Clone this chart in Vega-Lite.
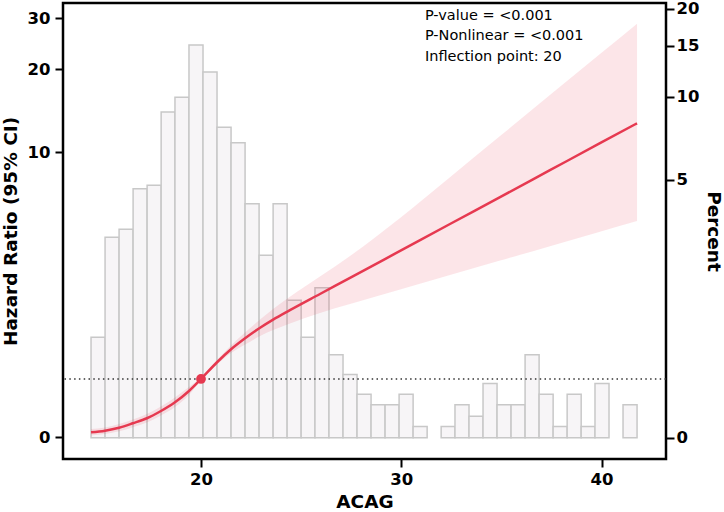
{
  "$schema": "https://vega.github.io/schema/vega-lite/v6.json",
  "width": 603,
  "height": 456,
  "autosize": {"type": "none"},
  "padding": {"left": 63, "top": 3, "right": 58, "bottom": 53},
  "background": "white",
  "config": {
    "view": {"stroke": "black", "strokeWidth": 2.5},
    "font": "DejaVu Sans",
    "axis": {
      "domain": false, "grid": false, "ticks": true,
      "tickColor": "black", "tickWidth": 2, "tickSize": 8,
      "labelFont": "DejaVu Sans", "labelFontSize": 16.5, "labelFontWeight": "bold", "labelColor": "black",
      "titleFont": "DejaVu Sans", "titleFontSize": 18.5, "titleFontWeight": "bold", "titleColor": "black"
    }
  },
  "datasets": {
    "bars": [
      {"x0": 14.51, "x1": 15.21, "pct": 0.96},
      {"x0": 15.21, "x1": 15.91, "pct": 2.97},
      {"x0": 15.91, "x1": 16.61, "pct": 3.2},
      {"x0": 16.61, "x1": 17.31, "pct": 4.63},
      {"x0": 17.31, "x1": 18.01, "pct": 4.77},
      {"x0": 18.01, "x1": 18.7, "pct": 8.83},
      {"x0": 18.7, "x1": 19.4, "pct": 9.95},
      {"x0": 19.4, "x1": 20.1, "pct": 15.06},
      {"x0": 20.1, "x1": 20.8, "pct": 12.17},
      {"x0": 20.8, "x1": 21.5, "pct": 7.79},
      {"x0": 21.5, "x1": 22.2, "pct": 6.86},
      {"x0": 22.2, "x1": 22.9, "pct": 4.05},
      {"x0": 22.9, "x1": 23.6, "pct": 2.49},
      {"x0": 23.6, "x1": 24.3, "pct": 4.05},
      {"x0": 24.3, "x1": 25.0, "pct": 1.54},
      {"x0": 25.0, "x1": 25.69, "pct": 0.96},
      {"x0": 25.69, "x1": 26.39, "pct": 1.77},
      {"x0": 26.39, "x1": 27.09, "pct": 0.74},
      {"x0": 27.09, "x1": 27.79, "pct": 0.52},
      {"x0": 27.79, "x1": 28.49, "pct": 0.33},
      {"x0": 28.49, "x1": 29.19, "pct": 0.24},
      {"x0": 29.19, "x1": 29.89, "pct": 0.24},
      {"x0": 29.89, "x1": 30.59, "pct": 0.33},
      {"x0": 30.59, "x1": 31.29, "pct": 0.075},
      {"x0": 31.99, "x1": 32.68, "pct": 0.075},
      {"x0": 32.68, "x1": 33.38, "pct": 0.24},
      {"x0": 33.38, "x1": 34.08, "pct": 0.15},
      {"x0": 34.08, "x1": 34.78, "pct": 0.43},
      {"x0": 34.78, "x1": 35.48, "pct": 0.24},
      {"x0": 35.48, "x1": 36.18, "pct": 0.24},
      {"x0": 36.18, "x1": 36.88, "pct": 0.74},
      {"x0": 36.88, "x1": 37.58, "pct": 0.33},
      {"x0": 37.58, "x1": 38.28, "pct": 0.075},
      {"x0": 38.28, "x1": 38.98, "pct": 0.33},
      {"x0": 38.98, "x1": 39.67, "pct": 0.075},
      {"x0": 39.67, "x1": 40.37, "pct": 0.43},
      {"x0": 41.07, "x1": 41.77, "pct": 0.24}
    ],
    "curve": [
      {"x": 14.51, "hr": 0.050, "lo": 0.018, "hi": 0.085},
      {"x": 15.21, "hr": 0.067, "lo": 0.033, "hi": 0.100},
      {"x": 15.91, "hr": 0.098, "lo": 0.061, "hi": 0.138},
      {"x": 16.6, "hr": 0.146, "lo": 0.104, "hi": 0.188},
      {"x": 17.3, "hr": 0.202, "lo": 0.155, "hi": 0.252},
      {"x": 18.0, "hr": 0.287, "lo": 0.234, "hi": 0.343},
      {"x": 18.7, "hr": 0.396, "lo": 0.336, "hi": 0.459},
      {"x": 19.4, "hr": 0.548, "lo": 0.492, "hi": 0.605},
      {"x": 20.0, "hr": 0.724, "lo": 0.709, "hi": 0.739},
      {"x": 20.8, "hr": 0.998, "lo": 0.960, "hi": 1.038},
      {"x": 21.5, "hr": 1.236, "lo": 1.166, "hi": 1.310},
      {"x": 22.2, "hr": 1.457, "lo": 1.330, "hi": 1.581},
      {"x": 22.95, "hr": 1.686, "lo": 1.506, "hi": 1.880},
      {"x": 23.6, "hr": 1.877, "lo": 1.636, "hi": 2.144},
      {"x": 24.44, "hr": 2.113, "lo": 1.785, "hi": 2.481},
      {"x": 25.94, "hr": 2.559, "lo": 2.041, "hi": 3.108},
      {"x": 27.44, "hr": 3.061, "lo": 2.274, "hi": 3.854},
      {"x": 29.94, "hr": 4.053, "lo": 2.690, "hi": 5.578},
      {"x": 32.43, "hr": 5.266, "lo": 3.155, "hi": 8.069},
      {"x": 34.93, "hr": 6.754, "lo": 3.673, "hi": 11.498},
      {"x": 37.42, "hr": 8.579, "lo": 4.248, "hi": 16.173},
      {"x": 39.92, "hr": 10.827, "lo": 4.893, "hi": 22.552},
      {"x": 41.77, "hr": 12.807, "lo": 5.418, "hi": 28.75}
    ],
    "ref": [{"x": 20, "hr": 0.724}],
    "notes": [
      {"x": 31.18, "y": 29.61, "label": "P-value = <0.001"},
      {"x": 31.18, "y": 25.15, "label": "P-Nonlinear = <0.001"},
      {"x": 31.18, "y": 21.34, "label": "Inflection point: 20"}
    ]
  },
  "layer": [
    {
      "data": {"name": "bars"},
      "mark": {"type": "rect", "fill": "#f7f5f7", "stroke": "#c8c8c8", "strokeWidth": 1.5},
      "encoding": {
        "x": {"field": "x0", "type": "quantitative", "scale": {"domain": [13.11, 43.215], "nice": false, "zero": false}, "axis": {"values": [20, 30, 40], "title": "ACAG", "labelPadding": 4, "titlePadding": 5}},
        "x2": {"field": "x1"},
        "y": {"field": "pct", "type": "quantitative", "scale": {"type": "symlog", "constant": 0.87, "domain": [-0.148, 20.87], "nice": false, "zero": false}, "axis": {"orient": "right", "values": [0, 5, 10, 15, 20], "title": "Percent", "labelPadding": 2, "titlePadding": 5}},
        "y2": {"datum": 0}
      }
    },
    {
      "layer": [
        {
          "data": {"name": "curve"},
          "mark": {"type": "area", "color": "#e8384f", "opacity": 0.13, "interpolate": "monotone"},
          "encoding": {
            "x": {"field": "x", "type": "quantitative", "scale": {"domain": [13.11, 43.215], "nice": false, "zero": false}, "axis": {"values": [20, 30, 40], "title": "ACAG", "labelPadding": 4, "titlePadding": 5}},
            "y": {"field": "lo", "type": "quantitative", "scale": {"type": "symlog", "constant": 1.3, "domain": [-0.233, 33.86], "nice": false, "zero": false}, "axis": {"orient": "left", "values": [0, 10, 20, 30], "title": "Hazard Ratio (95% CI)", "labelPadding": 5, "titlePadding": 7}},
            "y2": {"field": "hi"}
          }
        },
        {
          "data": {"name": "ref"},
          "mark": {"type": "rule", "strokeDash": [1.5, 3.3], "color": "#333333", "strokeWidth": 1.3},
          "encoding": {
            "y": {"field": "hr", "type": "quantitative", "scale": {"type": "symlog", "constant": 1.3, "domain": [-0.233, 33.86], "nice": false, "zero": false}, "axis": {"orient": "left", "values": [0, 10, 20, 30], "title": "Hazard Ratio (95% CI)", "labelPadding": 5, "titlePadding": 7}}
          }
        },
        {
          "data": {"name": "curve"},
          "mark": {"type": "line", "color": "#e63950", "strokeWidth": 2.5, "interpolate": "monotone"},
          "encoding": {
            "x": {"field": "x", "type": "quantitative", "scale": {"domain": [13.11, 43.215], "nice": false, "zero": false}, "axis": {"values": [20, 30, 40], "title": "ACAG", "labelPadding": 4, "titlePadding": 5}},
            "y": {"field": "hr", "type": "quantitative", "scale": {"type": "symlog", "constant": 1.3, "domain": [-0.233, 33.86], "nice": false, "zero": false}, "axis": {"orient": "left", "values": [0, 10, 20, 30], "title": "Hazard Ratio (95% CI)", "labelPadding": 5, "titlePadding": 7}}
          }
        },
        {
          "data": {"name": "ref"},
          "mark": {"type": "circle", "size": 95, "color": "#e63950", "opacity": 1},
          "encoding": {
            "x": {"field": "x", "type": "quantitative", "scale": {"domain": [13.11, 43.215], "nice": false, "zero": false}, "axis": {"values": [20, 30, 40], "title": "ACAG", "labelPadding": 4, "titlePadding": 5}},
            "y": {"field": "hr", "type": "quantitative", "scale": {"type": "symlog", "constant": 1.3, "domain": [-0.233, 33.86], "nice": false, "zero": false}, "axis": {"orient": "left", "values": [0, 10, 20, 30], "title": "Hazard Ratio (95% CI)", "labelPadding": 5, "titlePadding": 7}}
          }
        },
        {
          "data": {"name": "notes"},
          "mark": {"type": "text", "align": "left", "baseline": "alphabetic", "fontSize": 14.5, "font": "DejaVu Sans", "color": "black"},
          "encoding": {
            "x": {"field": "x", "type": "quantitative", "scale": {"domain": [13.11, 43.215], "nice": false, "zero": false}, "axis": {"values": [20, 30, 40], "title": "ACAG", "labelPadding": 4, "titlePadding": 5}},
            "y": {"field": "y", "type": "quantitative", "scale": {"type": "symlog", "constant": 1.3, "domain": [-0.233, 33.86], "nice": false, "zero": false}, "axis": {"orient": "left", "values": [0, 10, 20, 30], "title": "Hazard Ratio (95% CI)", "labelPadding": 5, "titlePadding": 7}},
            "text": {"field": "label"}
          }
        }
      ]
    }
  ],
  "resolve": {"scale": {"y": "independent"}}
}
